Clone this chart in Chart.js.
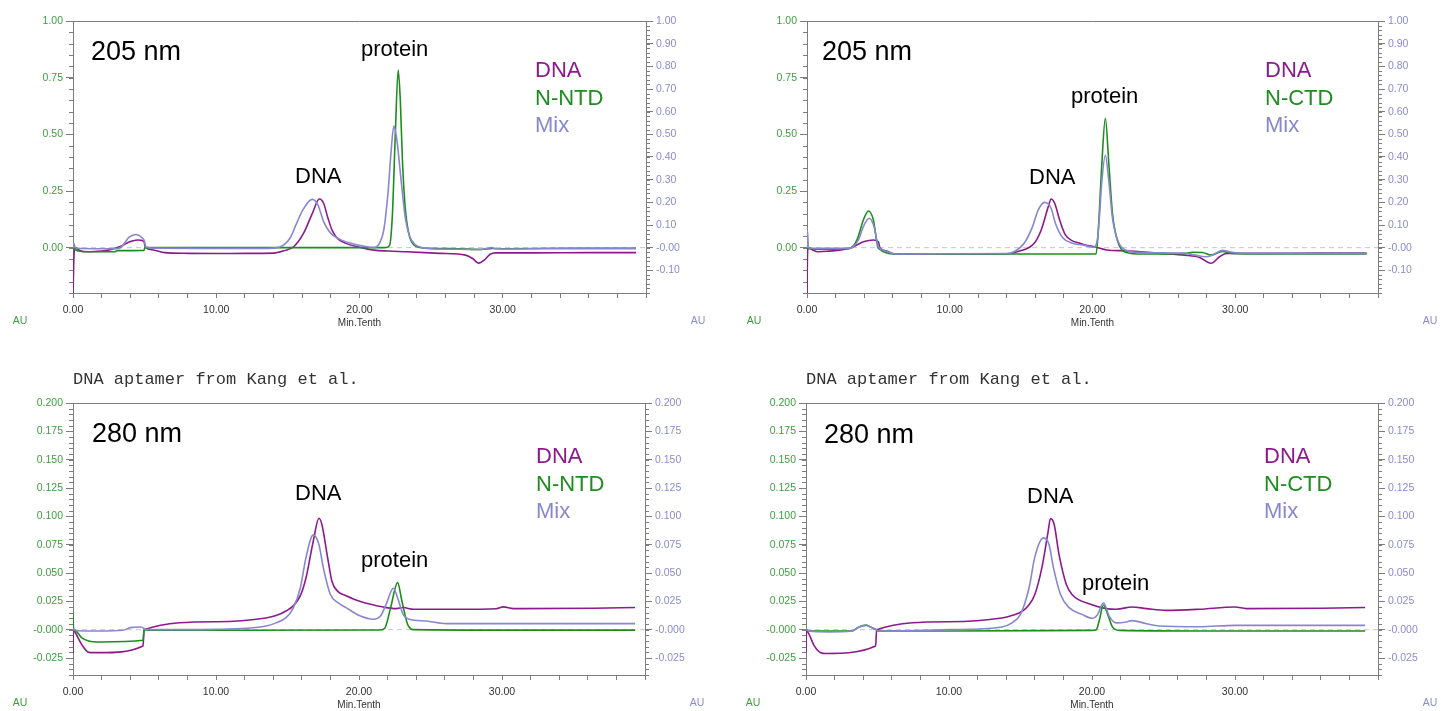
<!DOCTYPE html>
<html>
<head>
<meta charset="utf-8">
<title>Aptamer / nucleocapsid SEC traces</title>
<script src="https://cdn.jsdelivr.net/npm/chart.js@4.4.1/dist/chart.umd.min.js"></script>
<style>
  html, body { margin: 0; padding: 0; background: #fff; }
  body { width: 1441px; height: 711px; position: relative; overflow: hidden; }
  canvas { position: absolute; }
</style>
</head>
<body>
<canvas id="ntd205" width="720" height="345" style="left:0;top:0"></canvas>
<canvas id="ctd205" width="721" height="345" style="left:720px;top:0"></canvas>
<canvas id="ntd280" width="720" height="361" style="left:0;top:350px"></canvas>
<canvas id="ctd280" width="721" height="361" style="left:720px;top:350px"></canvas>
<script>
// traces as [minutes, AU] pairs read from the detector exports

// 205 nm, N-NTD run
const ntd205Dna = [[0,-0.2],[0.08,-0.02],[0.15,0.0],[0.4,-0.01],[0.8,-0.018],[1.5,-0.017],[2.3,-0.013],[3.3,0.005],[4.0,0.027],[4.5,0.034],[4.95,0.028],[5.05,0.002],[5.6,-0.01],[6.4,-0.022],[8,-0.025],[10,-0.026],[12,-0.025],[14.0,-0.024],[14.7,-0.014],[15.4,0.004],[16.1,0.064],[16.7,0.15],[17.2,0.215],[17.5,0.195],[17.8,0.13],[18.1,0.075],[18.5,0.038],[19.0,0.02],[20.0,0.002],[21.0,-0.011],[22.0,-0.015],[23.3,-0.018],[25.6,-0.025],[27.4,-0.033],[27.9,-0.048],[28.3,-0.068],[28.7,-0.055],[29.1,-0.03],[29.5,-0.023],[32,-0.023],[36,-0.022],[39.3,-0.022]];
const ntd205Protein = [[0,0.0],[0.1,-0.006],[0.5,-0.016],[1.5,-0.018],[2.95,-0.018],[3.05,-0.013],[4.95,-0.012],[5.02,0.0],[10,0.0],[15,0.0],[20,0.0],[21.8,0.0],[22.1,0.01],[22.3,0.15],[22.5,0.5],[22.7,0.784],[22.85,0.65],[23.0,0.38],[23.2,0.17],[23.45,0.06],[23.8,0.012],[24.3,0.0],[25,-0.003],[27,-0.005],[28.5,-0.008],[29.3,-0.004],[30,-0.005],[35,-0.003],[39.3,-0.003]];
const ntd205Mix = [[0,0.0],[0.05,0.02],[0.15,0.0],[0.6,-0.004],[2.0,-0.005],[3.2,-0.003],[3.6,0.02],[3.9,0.045],[4.4,0.058],[4.8,0.045],[4.98,0.03],[5.08,0.004],[5.6,-0.002],[9,-0.003],[13,-0.003],[14.0,-0.002],[14.7,0.011],[15.2,0.047],[15.6,0.106],[16.1,0.172],[16.7,0.213],[17.1,0.188],[17.5,0.114],[18.0,0.063],[18.5,0.041],[19.4,0.019],[20.1,0.009],[21.0,0.0],[21.4,0.02],[21.7,0.08],[22.0,0.25],[22.2,0.42],[22.4,0.537],[22.6,0.48],[22.9,0.3],[23.2,0.13],[23.5,0.05],[23.9,0.012],[24.4,0.0],[25,-0.005],[27,-0.007],[28.4,-0.008],[28.9,-0.003],[29.2,0.0],[29.6,-0.005],[30.5,-0.006],[33,-0.004],[36,-0.003],[39.3,-0.003]];

// 205 nm, N-CTD run
const ctd205Dna = [[0,-0.2],[0.04,-0.02],[0.1,0.0],[0.4,-0.01],[0.75,-0.018],[1.4,-0.016],[3.0,-0.003],[3.95,0.026],[4.65,0.034],[5.0,0.026],[5.1,0.0],[5.6,-0.015],[6.1,-0.027],[8,-0.028],[11,-0.028],[14.0,-0.027],[15.0,-0.013],[15.9,0.018],[16.4,0.077],[16.9,0.18],[17.1,0.215],[17.35,0.196],[17.7,0.122],[18.1,0.056],[18.6,0.03],[19.0,0.022],[19.5,0.012],[20.2,0.003],[21.0,-0.01],[22.3,-0.014],[24.7,-0.025],[26.5,-0.033],[27.5,-0.043],[28.3,-0.069],[28.9,-0.04],[29.4,-0.025],[32,-0.025],[36,-0.024],[39.2,-0.024]];
const ctd205Protein = [[0,0.0],[0.1,-0.004],[0.9,-0.007],[3.0,-0.003],[3.5,0.034],[3.95,0.122],[4.3,0.162],[4.65,0.122],[4.95,0.005],[5.1,-0.008],[6.1,-0.028],[10,-0.028],[15,-0.028],[20.25,-0.028],[20.4,0.07],[20.65,0.365],[20.9,0.571],[21.15,0.365],[21.4,0.15],[21.75,0.03],[22.3,-0.02],[23.5,-0.028],[26.5,-0.025],[27.0,-0.02],[27.7,-0.021],[28.3,-0.033],[29.1,-0.017],[29.8,-0.025],[32,-0.028],[39.2,-0.028]];
const ctd205Mix = [[0,0.0],[0.03,0.078],[0.1,0.0],[0.9,-0.003],[3.0,-0.003],[3.6,0.034],[3.95,0.093],[4.35,0.13],[4.7,0.093],[5.0,0.005],[5.4,-0.012],[6.3,-0.028],[10,-0.027],[14.0,-0.026],[14.5,-0.018],[15.2,0.018],[15.8,0.093],[16.2,0.167],[16.65,0.2],[17.1,0.174],[17.4,0.108],[17.9,0.045],[18.6,0.02],[19.3,0.012],[20.1,0.002],[20.35,0.04],[20.5,0.15],[20.65,0.29],[20.9,0.408],[21.15,0.29],[21.4,0.13],[21.75,0.035],[22.3,-0.01],[23.5,-0.022],[26.5,-0.025],[27.2,-0.033],[27.9,-0.04],[28.4,-0.033],[29.1,-0.012],[29.6,-0.018],[30.5,-0.025],[35,-0.025],[39.2,-0.025]];

// 280 nm, N-NTD run
const ntd280Dna = [[0,-0.0203],[0.03,0.0],[0.2,-0.0035],[0.6,-0.013],[1.1,-0.02],[1.9,-0.0203],[4.9,-0.0144],[4.97,0.0],[10,0.007],[13.5,0.0103],[14.2,0.0124],[14.9,0.0165],[15.4,0.021],[15.9,0.03],[16.3,0.046],[16.8,0.078],[17.2,0.0983],[17.4,0.093],[17.8,0.064],[18.1,0.043],[18.5,0.034],[19.1,0.03],[20.1,0.0248],[21.7,0.02],[22.6,0.0186],[23.1,0.0195],[23.8,0.018],[27.0,0.018],[29.6,0.0185],[30.1,0.0201],[30.8,0.0186],[36.4,0.0189],[39.3,0.0195]];
const ntd280Protein = [[0,0.0136],[0.04,0.0],[0.2,-0.0015],[0.6,-0.007],[1.1,-0.010],[1.9,-0.0109],[4.9,-0.0094],[4.97,0.0],[5.3,-0.0005],[10,-0.0005],[21.5,-0.0003],[21.8,0.0012],[22.2,0.0188],[22.7,0.0415],[23.0,0.0253],[23.4,0.0047],[23.8,0.0],[30,-0.0004],[39.3,-0.0004]];
const ntd280Mix = [[0,-0.0005],[0.05,0.001],[0.2,-0.001],[1.9,-0.0012],[3.5,-0.0005],[4.0,0.0018],[4.7,0.0024],[4.97,0.0012],[5.06,0.0],[10,0.0003],[13.5,0.0032],[14.2,0.006],[14.9,0.0106],[15.4,0.019],[15.9,0.037],[16.3,0.064],[16.8,0.0836],[17.2,0.075],[17.5,0.055],[18.0,0.031],[18.5,0.024],[19.1,0.0194],[20.1,0.012],[21.0,0.0092],[21.5,0.012],[21.9,0.0224],[22.4,0.0365],[22.7,0.028],[23.1,0.013],[23.5,0.0092],[24.7,0.0077],[26.1,0.0053],[39.3,0.0053]];

// 280 nm, N-CTD run
const ctd280Dna = [[0,-0.0203],[0.03,-0.001],[0.19,-0.0035],[0.56,-0.0138],[1.03,-0.0203],[1.38,-0.021],[4.87,-0.0144],[4.94,0.0],[10,0.007],[13.7,0.0103],[14.4,0.0124],[15.1,0.016],[15.6,0.022],[16.0,0.031],[16.5,0.055],[16.9,0.084],[17.1,0.098],[17.35,0.093],[17.7,0.066],[18.2,0.04],[18.6,0.031],[20.0,0.022],[21.0,0.0186],[21.7,0.018],[22.8,0.02],[23.8,0.0186],[25.2,0.017],[27.5,0.018],[30.0,0.02],[30.8,0.0186],[36.1,0.0189],[39.1,0.0195]];
const ctd280Protein = [[0,0.0],[0.2,-0.0012],[3.2,-0.0012],[3.7,0.0024],[4.2,0.004],[4.6,0.0018],[4.9,0.0],[5.1,-0.0012],[10,-0.0012],[20.0,-0.0006],[20.3,0.0],[20.5,0.0077],[20.8,0.0218],[21.1,0.0135],[21.4,0.0032],[21.9,-0.0006],[30,-0.0012],[39.1,-0.0012]];
const ctd280Mix = [[0,0.0012],[0.2,-0.0012],[1.6,-0.002],[3.2,-0.0012],[3.7,0.0024],[4.2,0.0038],[4.6,0.0018],[4.92,0.0],[5.05,-0.0012],[10,0.0],[13.7,0.0024],[14.4,0.006],[15.0,0.0135],[15.6,0.037],[16.0,0.064],[16.6,0.081],[17.0,0.075],[17.3,0.055],[17.8,0.031],[18.4,0.0194],[19.3,0.0135],[20.0,0.01],[20.4,0.0135],[20.8,0.0238],[21.2,0.012],[21.7,0.006],[22.4,0.0068],[22.8,0.008],[23.8,0.0053],[24.7,0.0032],[27.5,0.0026],[30.0,0.0038],[39.1,0.0038]];

// axis tick labels
const xTickLabels = ['0.00', '10.00', '20.00', '30.00'];
const au205Left = ['1.00', '0.75', '0.50', '0.25', '0.00'];
const au205Right = ['1.00', '0.90', '0.80', '0.70', '0.60', '0.50', '0.40', '0.30', '0.20', '0.10', '-0.00', '-0.10'];
const au280Left = ['0.200', '0.175', '0.150', '0.125', '0.100', '0.075', '0.050', '0.025', '-0.000', '-0.025'];
const au280Right = ['0.200', '0.175', '0.150', '0.125', '0.100', '0.075', '0.050', '0.025', '-0.000', '-0.025'];

const DNA_COLOR = '#8c1a8c';
const PROT_COLOR = '#1f8c1f';
const MIX_COLOR = '#8787cf';
const LEFT_TICK_COLOR = '#3f9e3f';
const RIGHT_TICK_COLOR = '#8b8bd0';
const AXIS_COLOR = '#7d7d7d';
const SANS = '"Liberation Sans", Arial, sans-serif';
const NARROW = '"Liberation Sans Narrow", "Liberation Sans", Arial, sans-serif';

function trace(points, label, color) {
    return {
        label: label,
        data: points.map(([x, y]) => ({ x, y })),
        borderColor: color,
        borderWidth: 1.6,
        pointRadius: 0,
        fill: false,
        cubicInterpolationMode: 'monotone',
        yAxisID: 'y'
    };
}

function buildPanel(id, cfg) {
    const canvas = document.getElementById(id);
    const W = canvas.width, H = canvas.height;
    const a = cfg.area;

    // dashed baseline, top frame edge, minor ticks and all the text
    const overlay = {
        id: 'overlay',
        beforeDatasetsDraw(chart) {
            const { ctx, chartArea } = chart;
            const y0 = chart.scales.y.getPixelForValue(0);
            ctx.save();
            ctx.strokeStyle = '#c6c6c6';
            ctx.lineWidth = 1;
            ctx.setLineDash([5, 4]);
            ctx.beginPath();
            ctx.moveTo(chartArea.left, y0);
            ctx.lineTo(chartArea.right, y0);
            ctx.stroke();
            ctx.restore();
        },
        afterDraw(chart) {
            const { ctx, chartArea } = chart;
            const L = chartArea.left, R = chartArea.right, T = chartArea.top, B = chartArea.bottom;
            ctx.save();
            ctx.strokeStyle = AXIS_COLOR;
            ctx.lineWidth = 1;
            ctx.beginPath();
            ctx.moveTo(L, T + 0.5);
            ctx.lineTo(R, T + 0.5);
            ctx.stroke();

            const drawMinor = (scale, step, side) => {
                const n = Math.round((scale.max - scale.min) / step);
                ctx.beginPath();
                for (let i = 0; i <= n; i++) {
                    const py = Math.round(scale.getPixelForValue(scale.min + i * step)) + 0.5;
                    if (side < 0) { ctx.moveTo(L - 4, py); ctx.lineTo(L, py); }
                    else { ctx.moveTo(R, py); ctx.lineTo(R + 4, py); }
                }
                ctx.stroke();
            };
            drawMinor(chart.scales.y, cfg.leftMinor, -1);
            drawMinor(chart.scales.y2, cfg.rightMinor, 1);

            ctx.textBaseline = 'alphabetic';
            ctx.textAlign = 'left';
            ctx.fillStyle = '#000';
            ctx.font = '27px ' + SANS;
            ctx.fillText(cfg.wavelength, L + cfg.waveAt[0], T + cfg.waveAt[1]);
            ctx.font = '22px ' + SANS;
            ctx.fillText('DNA', L + cfg.dnaAt[0], T + cfg.dnaAt[1]);
            ctx.fillText('protein', L + cfg.proteinAt[0], T + cfg.proteinAt[1]);

            const legend = [['DNA', DNA_COLOR], [cfg.proteinName, PROT_COLOR], ['Mix', MIX_COLOR]];
            legend.forEach(([txt, col], i) => {
                ctx.fillStyle = col;
                ctx.fillText(txt, L + cfg.legendAt[0], T + cfg.legendAt[1] + i * 27.5);
            });

            if (cfg.note) {
                ctx.fillStyle = '#333';
                ctx.font = '17px "Liberation Mono", "Courier New", monospace';
                ctx.fillText(cfg.note, L, T - 19);
            }

            ctx.textAlign = 'center';
            ctx.textBaseline = 'middle';
            ctx.font = '10px ' + NARROW;
            ctx.fillStyle = '#333';
            ctx.fillText('Min.Tenth', (L + R) / 2, B + 30);
            ctx.font = '10.5px ' + NARROW;
            ctx.fillStyle = LEFT_TICK_COLOR;
            ctx.fillText('AU', L - 53, B + 28);
            ctx.fillStyle = RIGHT_TICK_COLOR;
            ctx.fillText('AU', R + 52, B + 28);
            ctx.restore();
        }
    };

    const yAxis = (labels, color, side, width) => ({
        type: 'linear',
        position: side,
        min: cfg.yMin,
        max: cfg.yMax,
        afterBuildTicks: s => { s.ticks = labels.map(t => ({ value: parseFloat(t) })); },
        afterFit: s => { s.width = width; },
        border: { color: AXIS_COLOR, width: 1 },
        grid: { drawOnChartArea: false, tickLength: 7, tickColor: AXIS_COLOR },
        ticks: {
            color: color,
            padding: 3,
            font: { family: NARROW, size: 10.5 },
            callback: (v, i) => labels[i]
        }
    });

    return new Chart(canvas, {
        type: 'line',
        data: {
            datasets: [
                trace(cfg.mix, 'Mix', MIX_COLOR),
                trace(cfg.protein, cfg.proteinName, PROT_COLOR),
                trace(cfg.dna, 'DNA', DNA_COLOR)
            ]
        },
        options: {
            responsive: false,
            animation: false,
            events: [],
            layout: { padding: { top: a.top, left: 0, right: 0, bottom: 0 } },
            plugins: { legend: { display: false }, tooltip: { enabled: false } },
            scales: {
                x: {
                    type: 'linear',
                    min: 0,
                    max: 40,
                    afterBuildTicks: s => {
                        s.ticks = [];
                        for (let v = 0; v <= 40; v += 2) s.ticks.push({ value: v });
                    },
                    afterFit: s => { s.height = H - a.bottom; },
                    border: { color: AXIS_COLOR, width: 1 },
                    grid: { drawOnChartArea: false, tickLength: 5, tickColor: AXIS_COLOR },
                    ticks: {
                        autoSkip: false,
                        maxRotation: 0,
                        padding: 6,
                        color: '#333',
                        font: { family: NARROW, size: 10.5 },
                        callback: v => xTickLabels.find(t => parseFloat(t) === v) || ''
                    }
                },
                y: yAxis(cfg.leftLabels, LEFT_TICK_COLOR, 'left', a.left),
                y2: yAxis(cfg.rightLabels, RIGHT_TICK_COLOR, 'right', W - a.right)
            }
        },
        plugins: [overlay]
    });
}

buildPanel('ntd205', {
    area: { left: 73, right: 646, top: 21, bottom: 293 },
    yMin: -0.2, yMax: 1.0, leftMinor: 0.05, rightMinor: 0.02,
    leftLabels: au205Left, rightLabels: au205Right,
    dna: ntd205Dna, protein: ntd205Protein, mix: ntd205Mix, proteinName: 'N-NTD',
    wavelength: '205 nm', waveAt: [18, 39], dnaAt: [222, 162], proteinAt: [288, 35], legendAt: [462, 56]
});

buildPanel('ctd205', {
    area: { left: 87, right: 658, top: 21, bottom: 293 },
    yMin: -0.2, yMax: 1.0, leftMinor: 0.05, rightMinor: 0.02,
    leftLabels: au205Left, rightLabels: au205Right,
    dna: ctd205Dna, protein: ctd205Protein, mix: ctd205Mix, proteinName: 'N-CTD',
    wavelength: '205 nm', waveAt: [15, 39], dnaAt: [222, 163], proteinAt: [264, 82], legendAt: [458, 56]
});

buildPanel('ntd280', {
    area: { left: 73, right: 645, top: 53, bottom: 325 },
    yMin: -0.04, yMax: 0.2, leftMinor: 0.005, rightMinor: 0.005,
    leftLabels: au280Left, rightLabels: au280Right,
    dna: ntd280Dna, protein: ntd280Protein, mix: ntd280Mix, proteinName: 'N-NTD',
    wavelength: '280 nm', waveAt: [19, 39], dnaAt: [222, 97], proteinAt: [288, 164], legendAt: [463, 60],
    note: 'DNA aptamer from Kang et al.'
});

buildPanel('ctd280', {
    area: { left: 86, right: 658, top: 53, bottom: 325 },
    yMin: -0.04, yMax: 0.2, leftMinor: 0.005, rightMinor: 0.005,
    leftLabels: au280Left, rightLabels: au280Right,
    dna: ctd280Dna, protein: ctd280Protein, mix: ctd280Mix, proteinName: 'N-CTD',
    wavelength: '280 nm', waveAt: [18, 40], dnaAt: [221, 100], proteinAt: [276, 187], legendAt: [458, 60],
    note: 'DNA aptamer from Kang et al.'
});
</script>
</body>
</html>
